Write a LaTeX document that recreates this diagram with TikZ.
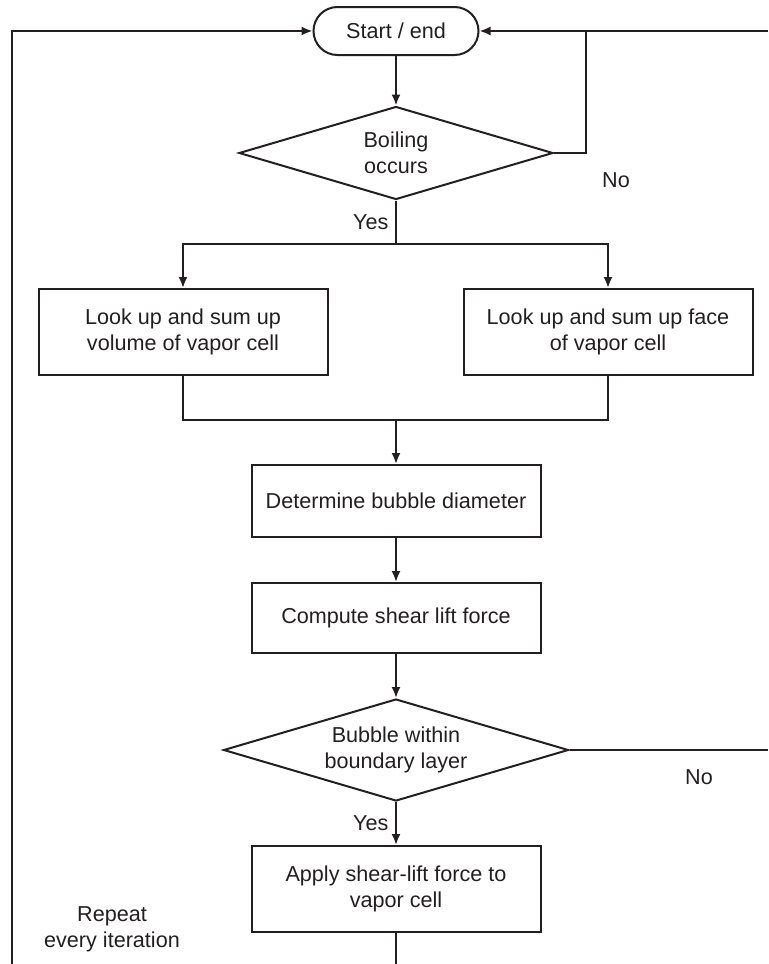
\documentclass[tikz,border=0pt]{standalone}
\usepackage{fontspec}
\setmainfont{Liberation Sans}
\usepackage{tikz}
\usetikzlibrary{shapes.geometric, arrows.meta}
\definecolor{flowink}{RGB}{35,31,32}

\begin{document}
\begin{tikzpicture}[
  x=0.5pt, y=-0.5pt,
  every node/.style={text=flowink, font=\fontsize{10.8pt}{13pt}\selectfont},
  terminal/.style={rectangle, rounded corners=12pt, draw=flowink, line width=1pt, minimum width=82.5pt, minimum height=24pt, align=center},
  decision/.style={diamond, aspect=3.4, inner sep=0pt, draw=flowink, line width=1pt, align=center},
  process/.style={rectangle, draw=flowink, line width=1pt, minimum width=144.5pt, align=center},
  flowline/.style={draw=flowink, line width=1pt},
  arrow/.style={flowline, -{Latex[length=5.5pt, width=4.5pt]}}
]
\useasboundingbox (0,0) rectangle (768,964);

% Top - start and first check
\node[terminal] (start) at (396,31) {Start / end};
\node[decision, minimum width=157pt, minimum height=46.5pt] (boil) at (396,153) {Boiling\\occurs};

% Middle row - look-ups
\node[process, minimum height=43pt] (vol) at (183,332) {Look up and sum up\\volume of vapor cell};
\node[process, minimum height=43pt] (face) at (608,332) {Look up and sum up face\\of vapor cell};

% Centre column
\node[process, minimum height=36pt] (diam) at (396,501) {Determine bubble diameter};
\node[process, minimum height=35pt] (shear) at (396,618) {Compute shear lift force};
\node[decision, minimum width=172.5pt, minimum height=51pt] (layer) at (396,750) {Bubble within\\boundary layer};
\node[process, minimum height=43pt] (apply) at (396,889) {Apply shear-lift force to\\vapor cell};

% Side notes
\node (noboil) at (616,180) {No};
\node (nolayer) at (699,777) {No};
\node[align=center] (repeat) at (112,929) {Repeat\\every iteration};

% Bends and loose ends
\coordinate (split) at (396,244);
\coordinate (join) at (396,420);
\coordinate (bend) at (586,31);
\coordinate (topright) at (768,31);
\coordinate (midright) at (768,750);
\coordinate (lefttop) at (12,31);
\coordinate (leftbot) at (12,964);
\coordinate (bottom) at (396,964);

% Arrows
\draw[arrow] (start) -- (boil);
\draw[arrow] (boil.south) -- (split) node[midway, left] (yesboil) {Yes} -| (vol.north);
\draw[arrow] (split) -| (face.north);
\draw[flowline] (vol.south) |- (join) -| (face.south);
\draw[arrow] (join) -- (diam);
\draw[arrow] (diam) -- (shear);
\draw[arrow] (shear) -- (layer);
\draw[arrow] (layer.south) -- (apply.north) node[midway, left] (yeslayer) {Yes};
\draw[flowline] (apply) -- (bottom);
\draw[flowline] (layer.east) -- (midright);
\draw[arrow] (boil.east) -| (bend) -- (start.east);
\draw[flowline] (topright) -- (bend);
\draw[arrow] (leftbot) -- (lefttop) -- (start.west);

\end{tikzpicture}
\end{document}
